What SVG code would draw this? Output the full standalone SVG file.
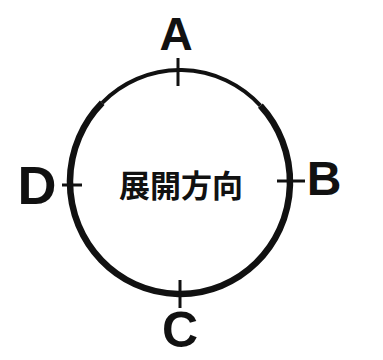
<svg xmlns="http://www.w3.org/2000/svg" width="383" height="360" viewBox="0 0 383 360">
<style>
.lbl{font-family:"Liberation Sans",Arial,sans-serif;font-weight:bold;fill:#111;text-anchor:middle}
.tick{stroke:#111;stroke-width:3;fill:none}
.ring{stroke:#111;fill:none;stroke-linecap:butt}
.cjk{font-family:"Noto Sans CJK JP","Noto Sans CJK SC",sans-serif;font-weight:bold;font-size:31px;fill:#111;text-anchor:middle}
</style>
<rect width="383" height="360" fill="#fff"/>
<g id="circle">
<path class="ring" stroke-width="6.5" d="M260.4,105.6 A110,112 0 1 1 102.2,102.8"/>
<path class="ring" stroke-width="4" d="M102.2,102.8 A110,112 0 0 1 260.4,105.6"/>
<text class="cjk" x="181" y="197">展開方向</text>
</g>
<g id="connectors">
<line class="tick" x1="178" y1="58" x2="178" y2="86"/>
<line class="tick" x1="62" y1="185" x2="82" y2="185"/>
<line class="tick" x1="277" y1="181" x2="305" y2="181"/>
<line class="tick" x1="180" y1="280" x2="180" y2="308"/>
</g>
<g id="A"><text class="lbl" font-size="46" x="176" y="50">A</text></g>
<g id="D"><text class="lbl" font-size="54" x="37" y="204">D</text></g>
<g id="B"><text class="lbl" font-size="48" x="324" y="195">B</text></g>
<g id="C"><text class="lbl" font-size="50" x="180" y="347">C</text></g>
</svg>
